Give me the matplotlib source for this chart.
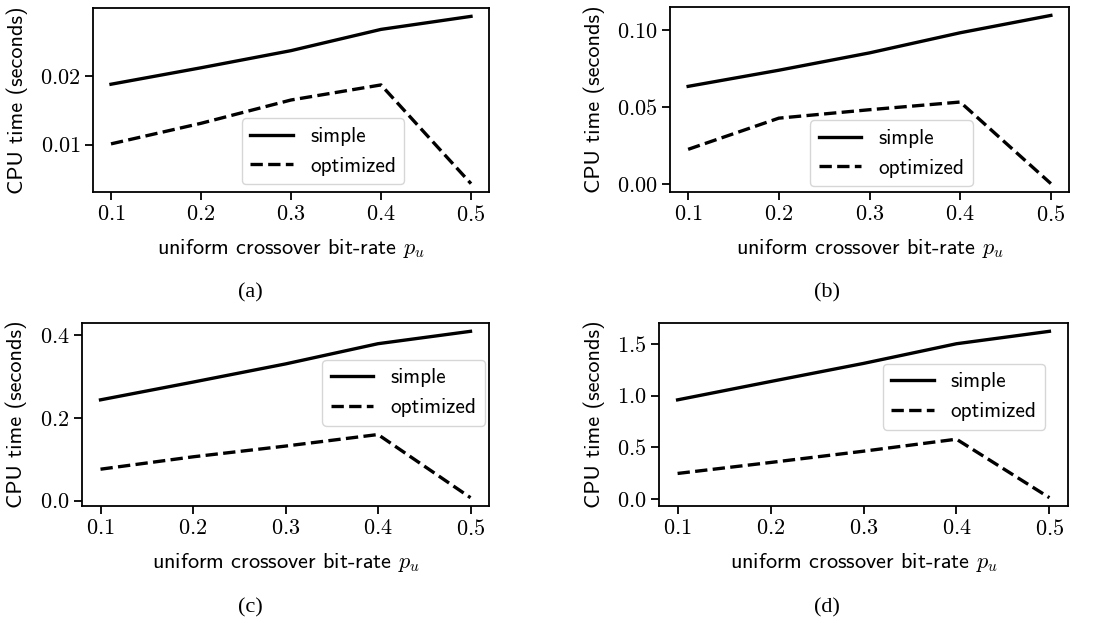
import matplotlib
matplotlib.use("Agg")
import matplotlib.pyplot as plt

# bit-rate values on the x axis
p_u = [0.1, 0.2, 0.3, 0.4, 0.5]

# CPU time (seconds)
simple_a = [0.0188, 0.0212, 0.0237, 0.0268, 0.0287]
optimized_a = [0.0101, 0.0131, 0.0165, 0.0187, 0.0043]

simple_b = [0.0635, 0.0740, 0.0853, 0.0984, 0.1097]
optimized_b = [0.0225, 0.0428, 0.0483, 0.0533, 0.0002]

simple_c = [0.244, 0.287, 0.331, 0.380, 0.410]
optimized_c = [0.076, 0.106, 0.132, 0.160, 0.007]

simple_d = [0.958, 1.135, 1.31, 1.50, 1.62]
optimized_d = [0.247, 0.353, 0.462, 0.578, 0.013]

captions = ["(a)", "(b)", "(c)", "(d)"]

plt.rcParams["mathtext.fontset"] = "cm"
plt.rcParams["axes.formatter.use_mathtext"] = True

W, H = 1107, 623
fig = plt.figure(figsize=(W / 100, H / 100), dpi=100)

# (left, top, right, bottom) in pixels, legend anchor, ylabel offset, caption centre
panels = [
    (simple_a, optimized_a, (93, 8, 489, 192), ("lower left", (0.376, 0.043)), -0.165, (250, 293)),
    (simple_b, optimized_b, (670, 7, 1069, 192), ("lower left", (0.351, 0.032)), -0.162, (827, 293)),
    (simple_c, optimized_c, (82, 323, 489, 506), ("upper right", (0.99, 0.798)), -0.135, (250, 608)),
    (simple_d, optimized_d, (659, 323, 1068, 506), ("upper right", (0.944, 0.776)), -0.132, (827, 608)),
]

for (s, o, box, leg, ylx, cap), text in zip(panels, captions):
    l, t, r, b = box
    ax = fig.add_axes([l / W, 1 - b / H, (r - l) / W, (b - t) / H])
    ax.plot(p_u, s, color="black", lw=2.4, label="simple")
    ax.plot(p_u, o, color="black", lw=2.4, ls="--", label="optimized")
    ax.set_xticks(p_u)
    for sp in ax.spines.values():
        sp.set_linewidth(1.3)
    ax.tick_params(width=1.3, length=5.6, labelsize=16, labelfontfamily="cmr10")
    ax.set_xlabel("uniform crossover bit-rate $p_u$", fontsize=16, family="cmss10")
    ax.set_ylabel("CPU time (seconds)", fontsize=16, family="cmss10")
    ax.xaxis.set_label_coords(0.5, -0.245)
    ax.yaxis.set_label_coords(ylx, 0.5)
    ax.legend(loc=leg[0], bbox_to_anchor=leg[1], borderaxespad=0,
              prop={"family": "cmss10", "size": 15.3})
    fig.text(cap[0] / W, 1 - cap[1] / H, text, ha="center", va="center",
             family="Liberation Serif", fontsize=16)

fig.savefig("out.png", dpi=100)
